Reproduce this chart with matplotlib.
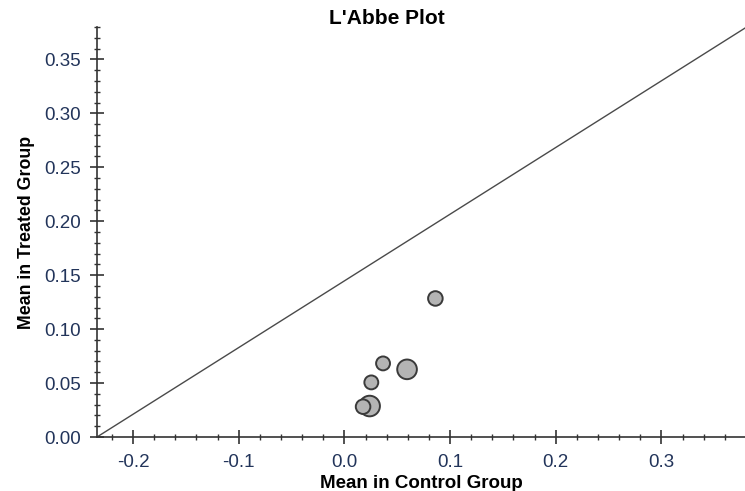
import matplotlib
matplotlib.use('Agg')
import matplotlib.pyplot as plt
from matplotlib.ticker import MultipleLocator, FormatStrFormatter

plt.rcParams['font.family'] = ['Liberation Sans', 'DejaVu Sans']

# study means (control, treated) and marker sizes
ctrl = [0.0861, 0.0366, 0.0593, 0.0255, 0.0239, 0.0177]
treat = [0.1284, 0.0682, 0.0627, 0.0506, 0.0287, 0.0281]
sizes = [110, 100, 200, 100, 220, 110]

# reference line end points
line_x = [-0.234, 0.379]
line_y = [0.0, 0.379]

tick_col = '#22345a'

fig = plt.figure(figsize=(7.45, 4.91), dpi=100)
ax = fig.add_axes([97/745, 54/491, 648/745, 410/491])

ax.plot(line_x, line_y, color='#4a4a4a', lw=1.0, zorder=1)
ax.scatter(ctrl, treat, s=sizes, facecolor='#b4b4b4', edgecolor='#3a3a3a',
           linewidth=1.4, zorder=3)

ax.set_xlim(-0.234, 0.379)
ax.set_ylim(0, 0.38)

ax.xaxis.set_major_locator(MultipleLocator(0.1))
ax.xaxis.set_minor_locator(MultipleLocator(0.02))
ax.yaxis.set_major_locator(MultipleLocator(0.05))
ax.yaxis.set_minor_locator(MultipleLocator(0.01))
ax.xaxis.set_major_formatter(FormatStrFormatter('%.1f'))
ax.yaxis.set_major_formatter(FormatStrFormatter('%.2f'))

for s in ['top', 'right']:
    ax.spines[s].set_visible(False)
for s in ['left', 'bottom']:
    ax.spines[s].set_color('#333333')
    ax.spines[s].set_linewidth(1.2)

ax.tick_params(which='major', direction='inout', length=10, width=1.2,
               color='#333333', labelsize=13.5, labelcolor=tick_col)
ax.tick_params(axis='x', which='major', pad=7)
ax.tick_params(axis='y', which='major', pad=6.5)
ax.tick_params(which='minor', direction='inout', length=5, width=1.0,
               color='#333333')

ax.set_xlabel('Mean in Control Group', fontsize=13.5, fontweight='bold', labelpad=3)
ax.set_ylabel('Mean in Treated Group', fontsize=12.8, fontweight='bold', labelpad=7)
fig.text(387/745, 1 - 19/491, "L'Abbe Plot", ha='center', va='center',
         fontsize=15, fontweight='bold')

fig.savefig('out.png', dpi=100)
